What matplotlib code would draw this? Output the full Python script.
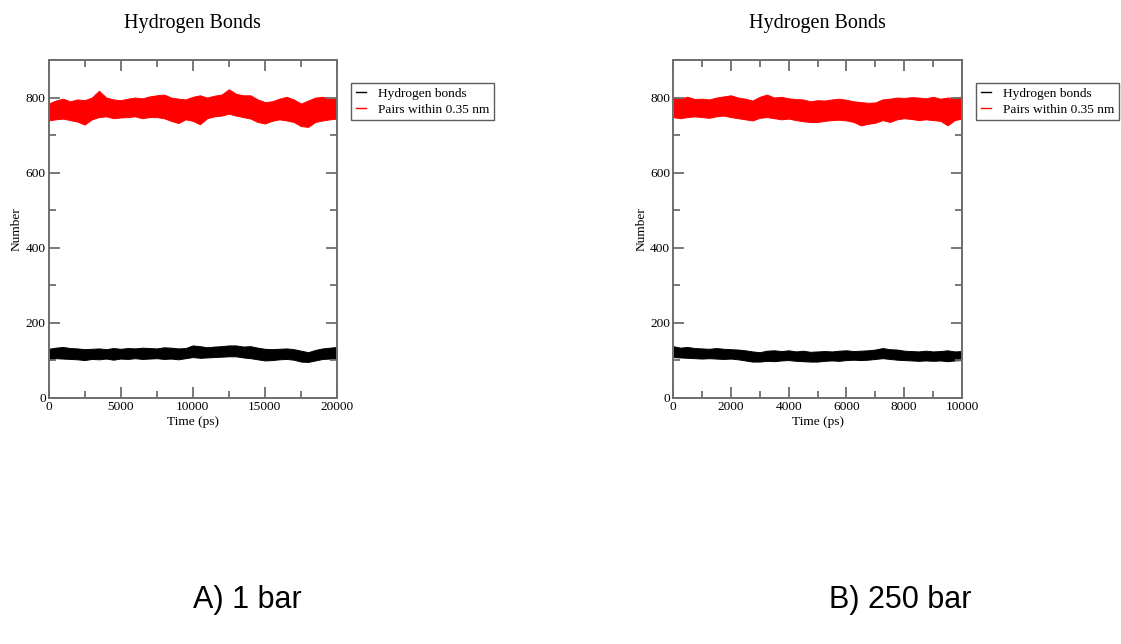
import matplotlib
matplotlib.use("Agg")
import matplotlib.pyplot as plt
from matplotlib.lines import Line2D
from matplotlib.ticker import MultipleLocator

# ---------------- data (envelopes) ----------------
time_a = [0, 500, 1000, 1500, 2000, 2500, 3000, 3500, 4000, 4500, 5000, 5500, 6000, 6500,
          7000, 7500, 8000, 8500, 9000, 9500, 10000, 10500, 11000, 11500, 12000, 12500,
          13000, 13500, 14000, 14500, 15000, 15500, 16000, 16500, 17000, 17500, 18000,
          18500, 19000, 19500, 20000]
pairs_a_hi = [784, 792, 797, 790, 795, 793, 800, 818, 800, 795, 793, 797, 800, 798, 803, 806,
              808, 800, 797, 795, 802, 806, 800, 805, 808, 822, 810, 806, 806, 795, 788, 790,
              797, 802, 795, 784, 792, 800, 802, 798, 797]
pairs_a_lo = [739, 742, 744, 740, 736, 728, 742, 748, 750, 745, 747, 748, 750, 745, 748, 748,
              745, 738, 732, 742, 738, 729, 745, 750, 752, 757, 752, 748, 744, 735, 731, 738,
              742, 739, 735, 724, 722, 735, 739, 742, 744]
hbond_a_hi = [131, 134, 136, 133, 132, 130, 131, 132, 130, 133, 131, 133, 132, 134, 133, 132,
              135, 134, 132, 133, 140, 138, 135, 137, 138, 140, 140, 137, 138, 134, 131, 130,
              131, 132, 130, 126, 122, 128, 132, 134, 136]
hbond_a_lo = [100, 106, 105, 104, 103, 101, 104, 103, 105, 102, 105, 104, 106, 104, 105, 106,
              104, 105, 103, 106, 109, 107, 108, 109, 110, 111, 111, 108, 106, 103, 100, 101,
              103, 104, 102, 97, 96, 100, 104, 105, 105]

time_b = [0, 250, 500, 750, 1000, 1250, 1500, 1750, 2000, 2250, 2500, 2750, 3000, 3250, 3500,
          3750, 4000, 4250, 4500, 4750, 5000, 5250, 5500, 5750, 6000, 6250, 6500, 6750, 7000,
          7250, 7500, 7750, 8000, 8250, 8500, 8750, 9000, 9250, 9500, 9750, 10000]
pairs_b_hi = [802, 798, 802, 796, 797, 795, 800, 803, 806, 800, 797, 792, 802, 808, 800, 802,
              798, 796, 795, 790, 793, 792, 795, 797, 794, 790, 788, 786, 787, 795, 797, 800,
              799, 801, 800, 798, 802, 797, 800, 799, 803]
pairs_b_lo = [748, 745, 748, 750, 748, 746, 750, 752, 748, 745, 742, 739, 746, 748, 745, 742,
              744, 740, 737, 735, 735, 738, 740, 741, 739, 735, 726, 730, 733, 740, 735, 742,
              745, 743, 740, 742, 740, 738, 726, 740, 744]
hbond_b_hi = [138, 134, 136, 133, 132, 131, 133, 131, 130, 129, 127, 124, 122, 126, 127, 125,
              127, 124, 126, 123, 124, 125, 124, 126, 127, 125, 126, 127, 129, 133, 130, 129,
              126, 125, 124, 126, 124, 125, 127, 124, 125]
hbond_b_lo = [109, 108, 107, 106, 105, 106, 105, 104, 105, 103, 100, 97, 97, 99, 98, 100,
              101, 99, 98, 97, 97, 99, 100, 99, 101, 102, 101, 102, 104, 106, 104, 102,
              101, 100, 99, 100, 99, 100, 98, 100, 101]

series_labels = ["Hydrogen bonds", "Pairs within 0.35 nm"]
panel_titles = ["Hydrogen Bonds", "Hydrogen Bonds"]
panel_captions = ["A) 1 bar", "B) 250 bar"]

# ---------------- figure ----------------
W, H = 1121, 644
fig = plt.figure(figsize=(W / 100, H / 100), dpi=100)
serif = ["Liberation Serif", "DejaVu Serif"]
spine_c = "#6e6e6e"

panels = [
    dict(px=(48.5, 337), t=time_a, p_hi=pairs_a_hi, p_lo=pairs_a_lo, h_hi=hbond_a_hi, h_lo=hbond_a_lo,
         xmax=20000, major=5000, minor=2500),
    dict(px=(673, 962), t=time_b, p_hi=pairs_b_hi, p_lo=pairs_b_lo, h_hi=hbond_b_hi, h_lo=hbond_b_lo,
         xmax=10000, major=2000, minor=1000),
]
top_px, bot_px = 60, 398
fs, tfs = 9.6, 14.5

for i, p in enumerate(panels):
    x0, x1 = p["px"]
    ax = fig.add_axes([x0 / W, 1 - bot_px / H, (x1 - x0) / W, (bot_px - top_px) / H])
    ax.fill_between(p["t"], p["h_lo"], p["h_hi"], color="black", lw=0.7, edgecolor="black")
    ax.fill_between(p["t"], p["p_lo"], p["p_hi"], color="#ff0000", lw=0.7, edgecolor="#ff0000")
    ax.set_xlim(0, p["xmax"])
    ax.set_ylim(0, 900)
    ax.xaxis.set_major_locator(MultipleLocator(p["major"]))
    ax.xaxis.set_minor_locator(MultipleLocator(p["minor"]))
    ax.yaxis.set_major_locator(MultipleLocator(200))
    ax.yaxis.set_minor_locator(MultipleLocator(100))
    ax.tick_params(which="both", direction="in", top=True, right=True, color=spine_c,
                   labelsize=fs, pad=2)
    ax.tick_params(which="major", length=8, width=1.3)
    ax.tick_params(which="minor", length=5, width=1.3)
    for lab in ax.get_xticklabels() + ax.get_yticklabels():
        lab.set_family(serif)
    for s in ax.spines.values():
        s.set_color(spine_c)
        s.set_linewidth(1.4)
    ax.set_xlabel("Time (ps)", family=serif, fontsize=fs, labelpad=2)
    ax.set_ylabel("Number", family=serif, fontsize=fs, labelpad=2)
    ax.set_title(panel_titles[i], family=serif, fontsize=tfs, pad=(top_px - 21) * 0.72 - 5)
    handles = [Line2D([], [], color="black", lw=1), Line2D([], [], color="#ff0000", lw=1)]
    leg = ax.legend(handles, series_labels, loc="upper left", bbox_to_anchor=(1.048, 0.932),
                    borderaxespad=0, frameon=True, fancybox=False, handlelength=0.8,
                    handletextpad=0.9, labelspacing=0.25, borderpad=0.35,
                    prop={"family": serif, "size": fs})
    leg.get_frame().set_edgecolor("#333333")
    leg.get_frame().set_linewidth(1.0)

caption_x = [247, 900]
for cx, txt in zip(caption_x, panel_captions):
    fig.text(cx / W, 1 - 600 / H, txt, ha="center", va="center",
             family=["Liberation Sans", "DejaVu Sans"], fontsize=22)

fig.savefig("out.png", dpi=100)
